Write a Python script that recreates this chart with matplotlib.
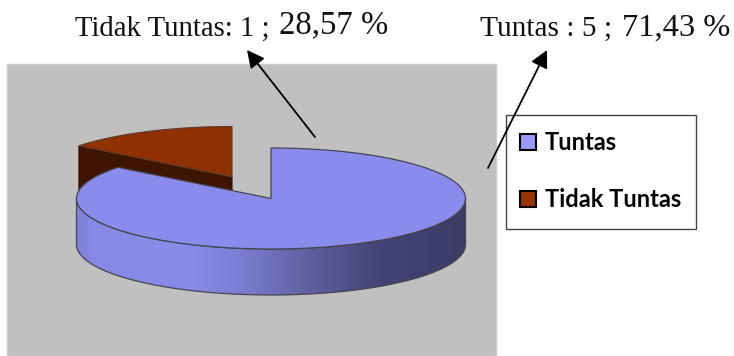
import matplotlib
matplotlib.use('Agg')
import matplotlib.pyplot as plt
import numpy as np
from matplotlib.colors import LinearSegmentedColormap
from matplotlib.patches import Patch, Polygon, Rectangle

# Data
categories = ['Tuntas', 'Tidak Tuntas']
counts = [5, 1]
percents = [71.43, 28.57]

# Pie geometry in pixels
cx, cy = 271, 198.5
rx, ry = 194.5, 50.5
depth = 46
explode = (-39, -21.5)
warp = -9.35

top_blue = '#8b8bee'
top_brown = '#8f3100'
wall_brown = '#3d1500'
edge = '#45454f'


def ring(t, c=(cx, cy)):
    # t is degrees clockwise from the top; 3D view squeezes the angles a bit
    t = np.radians(t)
    phi = t + np.radians(warp) * np.sin(2 * t)
    return c[0] + rx * np.sin(phi), c[1] - ry * np.cos(phi)


fig = plt.figure(figsize=(7.34, 3.56), dpi=100)
ax = fig.add_axes([0, 0, 1, 1])

ax.add_patch(Rectangle((7, 64), 489, 292, fc='#c0c0c0', ec='#cdcdcd', lw=1))

sweep = 360 * counts[0] / sum(counts)

# Exploded slice: cut wall first, then its top
c2 = (cx + explode[0], cy + explode[1])
x0, y0 = ring(sweep, c2)
ax.add_patch(Polygon([(x0, y0), c2, (c2[0], c2[1] + depth), (x0, y0 + depth)],
                     fc=wall_brown, ec='#2a1000', lw=0.8))
t = np.linspace(sweep, 360, 60)
xs, ys = ring(t, c2)
ax.add_patch(Polygon(np.r_[[c2], np.c_[xs, ys]], fc=top_brown, ec='#5a3a2a', lw=0.8))

# Rim of the big slice with left-to-right shading
a = np.linspace(0, np.pi, 200)
rim_x = cx + rx * np.cos(a)
rim_y = cy + ry * np.sin(a)
rim = Polygon(np.r_[np.c_[rim_x, rim_y], np.c_[rim_x[::-1], rim_y[::-1] + depth]],
              fc='none', ec=edge, lw=0.9, zorder=2.5)
ax.add_patch(rim)
shade = LinearSegmentedColormap.from_list('rim', [
    (0.0, '#8080dc'), (0.04, '#8888e6'), (0.3, '#8a8aea'), (0.45, '#7878cc'),
    (0.6, '#5f5f9f'), (0.78, '#434376'), (1.0, '#3c3c66')])
img = ax.imshow(np.linspace(0, 1, 256)[None, :], cmap=shade, aspect='auto',
                extent=(cx - rx, cx + rx, cy + ry + depth, cy - 1), zorder=2)
img.set_clip_path(rim)

# Top of the big slice
t = np.linspace(0, sweep, 240)
xs, ys = ring(t)
ax.add_patch(Polygon(np.r_[[(cx, cy)], np.c_[xs, ys]], fc=top_blue, ec=edge, lw=0.9, zorder=3))

ax.set_xlim(0, 734)
ax.set_ylim(356, 0)
ax.axis('off')

# Callout labels, the percentage is set larger than the rest
serif = 'Liberation Serif'
fmt = [f'{p:.2f}'.replace('.', ',') + ' %' for p in percents]
ax.text(75, 36, f'{categories[1]}: {counts[1]} ;', family=serif, fontsize=20.7, color='#111111')
ax.text(279, 33, fmt[1], family=serif, fontsize=23.6, color='#111111')
ax.text(480, 36, f'{categories[0]} : {counts[0]} ;', family=serif, fontsize=21.2, color='#111111')
ax.text(622, 36, fmt[0], family=serif, fontsize=23.4, color='#111111')

# Legend frame is drawn separately so the inner padding can differ per side
ax.add_patch(Rectangle((506, 115), 190, 114, fc='white', ec='#444444', lw=1, zorder=4))
handles = [Patch(fc='#9999ff', ec='black', lw=1.5), Patch(fc='#993300', ec='black', lw=1.5)]
leg = ax.legend(handles, categories, loc='upper left', bbox_to_anchor=(520 / 734, 1 - 131 / 356),
                prop={'family': 'Lato', 'weight': 'bold', 'size': 17}, frameon=False,
                borderaxespad=0, handlelength=0.68, handleheight=0.66, handletextpad=0.38,
                labelspacing=1.44, borderpad=0)
leg.set_zorder(5)

# Arrows from the pie up to the labels
for tail, tip in [((315, 137), (247, 50)), ((488, 168), (547, 50))]:
    ax.annotate('', xy=tip, xytext=tail, zorder=6,
                arrowprops=dict(arrowstyle='-|>,head_length=0.75,head_width=0.38', color='black',
                                lw=1.3, shrinkA=0, shrinkB=0, mutation_scale=14))

fig.savefig('out.png', dpi=100)
